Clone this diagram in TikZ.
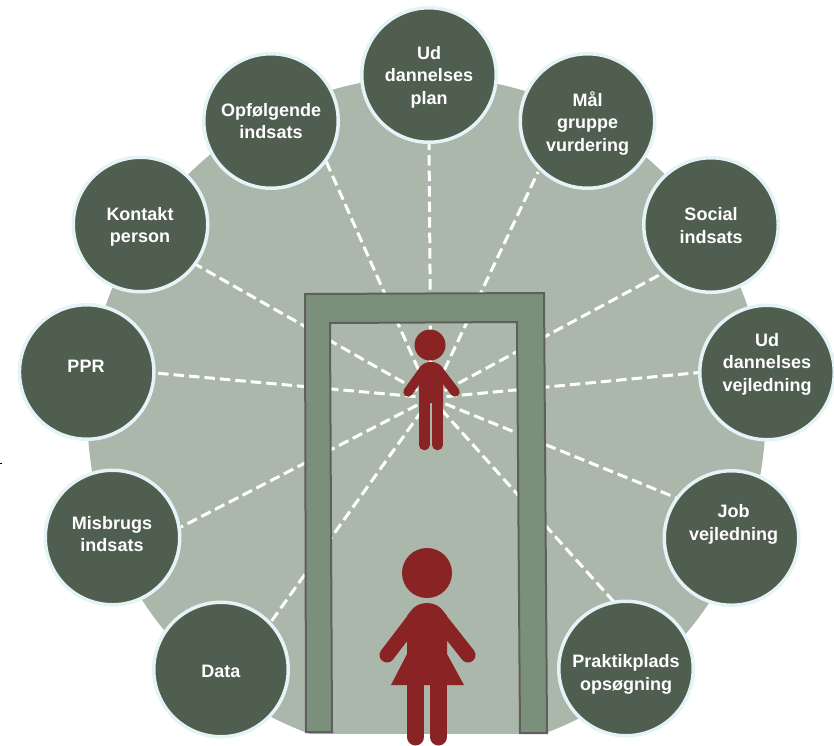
\documentclass[tikz,border=0pt]{standalone}
\usepackage{fontspec}
\setmainfont{Liberation Sans}
\definecolor{disc}{HTML}{AAB7AA}
\definecolor{dark}{HTML}{505E50}
\definecolor{rim}{HTML}{E4F3F5}
\definecolor{frame}{HTML}{7A907A}
\definecolor{frameline}{HTML}{5F5F5F}
\definecolor{person}{HTML}{8A2424}
\tikzset{
  service/.style={circle,draw=rim,line width=3.5pt,fill=dark,minimum size=134.5pt,inner sep=0pt},
  caption/.style={text=white,align=center,inner sep=0pt,anchor=base,font=\fontsize{18}{22.3}\selectfont\bfseries},
  spoke/.style={draw=white,line width=3pt,dash pattern=on 10.5pt off 5pt},
  doorframe/.style={draw=frameline,line width=2pt,fill=frame,even odd rule},
  figure/.style={fill=person,draw=none},
  limb/.style={draw=person,line cap=round,line join=round}
}
\begin{document}
\begin{tikzpicture}[x=1pt,y=-1pt]
\useasboundingbox (0,0) rectangle (834,745);
\begin{scope}
\clip (0,0) rectangle (834,733.5);
\fill[disc] (426.5,415.5) circle (339);
\end{scope}
\coordinate (mark) at (0,463);
\coordinate (markend) at (2,463);
\draw[line width=1pt,black] (mark) -- (markend);
\coordinate (hub) at (431,398);
\coordinate (e1) at (429,143);
\coordinate (e2) at (538,172);
\coordinate (e3) at (663,273);
\coordinate (e4) at (699,372.5);
\coordinate (e5) at (678,498.5);
\coordinate (e6) at (614,602);
\coordinate (e7) at (268,626);
\coordinate (e8) at (181,527);
\coordinate (e9) at (155,373);
\coordinate (e10) at (195,264);
\coordinate (e11) at (326,161);
\foreach \n in {e1,e2,e3,e4,e5,e6,e7,e8,e9,e10,e11}
  \draw[spoke] (hub) -- (\n);
\node[service] (plan) at (429,75) {};
\node[service] (maal) at (587.5,121) {};
\node[service] (social) at (711,225) {};
\node[service] (vejl) at (767,372.5) {};
\node[service] (job) at (731.5,538) {};
\node[service] (prak) at (626,668.5) {};
\node[service] (data) at (221,669.5) {};
\node[service] (misb) at (112.5,537.5) {};
\node[service] (ppr) at (86.7,372) {};
\node[service] (kont) at (140.5,224.5) {};
\node[service] (opf) at (271,121) {};
\node[caption] (planT) at (429,104) {Ud\\dannelses\\plan};
\node[caption] (maalT) at (587.5,151) {Mål\\gruppe\\vurdering};
\node[caption] (socialT) at (711,243) {Social\\indsats};
\node[caption] (vejlT) at (767,391) {Ud\\dannelses\\vejledning};
\node[caption] (jobT) at (733.5,540) {Job\\vejledning};
\node[caption] (prakT) at (626,690) {Praktikplads\\opsøgning};
\node[caption] (dataT) at (221,677) {Data};
\node[caption] (misbT) at (112,551.7) {Misbrugs\\indsats};
\node[caption] (pprT) at (86,372.7) {PPR};
\node[caption] (kontT) at (140,242.7) {Kontakt\\person};
\node[caption] (opfT) at (271,138.5) {Opfølgende\\indsats};
\path[doorframe] (305,294) -- (544,293) -- (547,733) -- (520,733) -- (517,322) -- (330,323) -- (332,732) -- (306,732) -- cycle;
% small person
\fill[figure] (430,345) circle (15.5);
\draw[limb,line width=9.5pt] (408,392) -- (423,371);
\draw[limb,line width=9.5pt] (455,392) -- (439,371);
\fill[figure] (419,368) .. controls (423,363) and (427,362) .. (431,362) .. controls (435,362) and (439,363) .. (443,368) -- (443,403) -- (419,403) -- cycle;
\draw[limb,line width=10.5pt] (424.3,400) -- (424.3,445);
\draw[limb,line width=10.5pt] (437.7,400) -- (437.7,445);
% large person
\fill[figure] (427,573) circle (25);
\draw[limb,line width=15pt] (387,655) -- (416,617);
\draw[limb,line width=15pt] (468,655) -- (438,617);
\fill[figure] (410,612) .. controls (414,606) and (420,603) .. (427,603) .. controls (434,603) and (440,606) .. (444,612) -- (447,616) -- (447,654) -- (464,685) -- (391,685) -- (407,654) -- (407,616) -- cycle;
\draw[limb,line width=17pt] (415.5,680) -- (415.5,737);
\draw[limb,line width=17pt] (438.5,680) -- (438.5,737);
\end{tikzpicture}
\end{document}
